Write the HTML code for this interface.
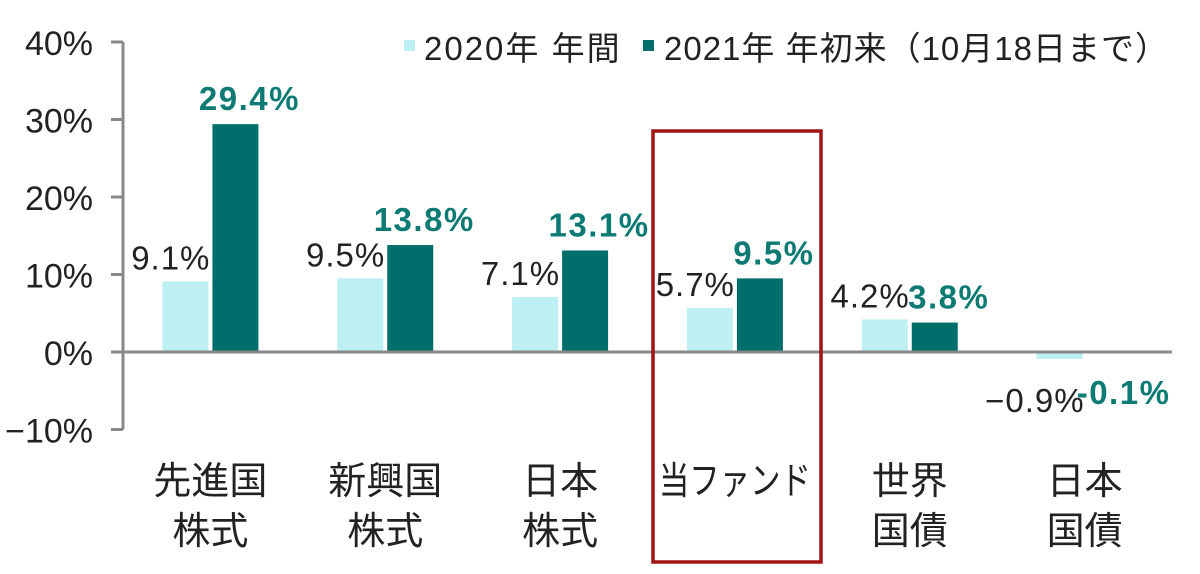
<!DOCTYPE html>
<html><head><meta charset="utf-8"><style>
html,body{margin:0;padding:0;background:#fff;}
svg{display:block;font-family:"Liberation Sans","Noto Sans CJK JP",sans-serif;}
</style></head><body>
<svg id="chart" width="1200" height="574"></svg>
<script>
const categories = [["先進国","株式"],["新興国","株式"],["日本","株式"],["当ファンド"],["世界","国債"],["日本","国債"]];
const series2020 = [9.1, 9.5, 7.1, 5.7, 4.2, -0.9];
const series2021 = [29.4, 13.8, 13.1, 9.5, 3.8, -0.1];
const tickValues = [40, 30, 20, 10, 0, -10];
const labels2020 = ["9.1%","9.5%","7.1%","5.7%","4.2%","-0.9%"];
const labels2021 = ["29.4%","13.8%","13.1%","9.5%","3.8%","-0.1%"];

const NS = "http://www.w3.org/2000/svg";
const svg = document.getElementById('chart');
const axisX = 123, plotRight = 1172, zeroY = 352, perUnit = 7.75;
const y = v => zeroY - v * perUnit;
const groupW = (plotRight - axisX) / categories.length;
const gx = i => axisX + groupW * (i + 0.5);
function mk(tag, attrs, text){const e=document.createElementNS(NS,tag);for(const k in attrs)e.setAttribute(k,attrs[k]);if(text!==undefined)e.textContent=text;svg.appendChild(e);return e;}

// y axis
let e = mk('line',{x1:axisX,y1:y(40),x2:axisX,y2:y(-10),stroke:'#888','stroke-width':3});


tickValues.forEach(v=>{
  let t = mk('line',{x1:111,y1:y(v),x2:axisX,y2:y(v),stroke:'#888','stroke-width':3});
  
  
  let l = mk('text',{x:93,y:y(v)+13,'text-anchor':'end','font-size':34,fill:'#222'},(v<0?'−':'')+Math.abs(v)+'%');
  
  
});

// bars
const bw = 46;
categories.forEach((c,i)=>{
  const cx = gx(i);
  const lx = cx - 48, dx = cx + 2;
  const v1 = series2020[i], v2 = series2021[i];
  let b1 = mk('rect',{x:lx,y:Math.min(y(v1),zeroY),width:bw,height:Math.abs(y(v1)-zeroY),fill:'#bdf0f3'});
  
  
  let b2 = mk('rect',{x:dx,y:Math.min(y(v2),zeroY),width:bw,height:Math.abs(y(v2)-zeroY),fill:'#006e6a'});
  
  
  const ly1 = v1 >= 0 ? y(v1) - 12 : zeroY + 60;
  let t1 = mk('text',{x:lx+bw+2,y:ly1,'text-anchor':'end','font-size':33,'letter-spacing':1,fill:'#222'},labels2020[i].replace('-','−'));
  
  
  const ly2 = v2 >= 0 ? y(v2) - 14 : zeroY + 52;
  let t2 = mk('text',{x:dx+bw/2+14,y:ly2,'text-anchor':'middle','font-size':33,'font-weight':'600','letter-spacing':1.5,fill:'#0e7a74'},labels2021[i]);
  
  
  c.forEach((line,k)=>{
    const attrs = {x:cx,y:494+k*50,'text-anchor':'middle','font-size':38,fill:'#222'};
    if (line.length > 3) { attrs.textLength = 152; attrs.lengthAdjust = 'spacingAndGlyphs'; }
    let ct = mk('text',attrs,line);
    
    
  });
});

// zero line
e = mk('line',{x1:axisX,y1:zeroY,x2:plotRight,y2:zeroY,stroke:'#888','stroke-width':3});



// highlight box
e = mk('rect',{x:653,y:131,width:168,height:431,fill:'none',stroke:'#a01414','stroke-width':3.5});



// legend
e = mk('rect',{x:404,y:40,width:11,height:11,fill:'#bdf0f3'});


e = mk('text',{x:424,y:60,'font-size':33,'letter-spacing':2,fill:'#222'},'2020年 年間');


e = mk('rect',{x:643,y:40,width:11,height:11,fill:'#006e6a'});


e = mk('text',{x:664,y:60,'font-size':33,'letter-spacing':1,fill:'#222'},'2021年 年初来（10月18日まで）');


</script>
</body></html>
